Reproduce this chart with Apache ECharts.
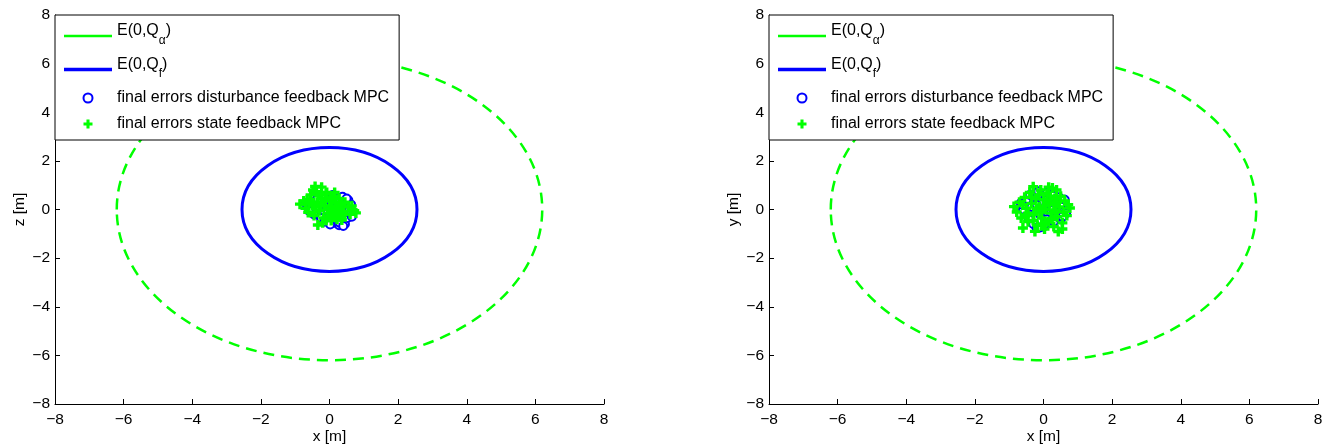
<!DOCTYPE html>
<html><head><meta charset="utf-8">
<script src="https://cdn.jsdelivr.net/npm/echarts@6/dist/echarts.min.js"></script>
<style>html,body{margin:0;padding:0;background:#fff}#c{width:1324px;height:447px}</style>
</head><body><div id="c"></div><script>
// ---- data ----
const tickValues = [-8, -6, -4, -2, 0, 2, 4, 6, 8];
const xAxisNames = ['x [m]', 'x [m]'];
const yAxisNames = ['z [m]', 'y [m]'];
const legendNames = ['E(0,Qα)', 'E(0,Qf)', 'final errors disturbance feedback MPC', 'final errors state feedback MPC'];
// ellipses: [centerX, centerY, radiusX, radiusY] in data units
const ellipseAlpha = [0, 0, 6.2, 6.2];
const ellipseF = [0, 0, 2.55, 2.55];
// left plot (x-z)
const leftDisturbance = [[-0.7,0.27],[-0.55,0.1],[-0.45,-0.2],[-0.4,0.35],[-0.3,0.05],[-0.25,-0.35],[-0.2,0.5],[-0.1,0.2],[-0.05,-0.1],[0.0,0.55],[0.05,0.3],[0.08,-0.3],[0.12,0.1],[0.15,-0.55],[0.18,0.4],[0.2,-0.15],[0.25,0.2],[0.28,-0.65],[0.3,0.45],[0.33,-0.4],[0.36,0.05],[0.4,-0.25],[0.42,0.3],[0.45,-0.6],[0.5,0.15],[0.52,-0.35],[0.55,0.38],[0.6,-0.1],[0.63,0.2],[0.65,-0.3],[-0.15,-0.5],[0.1,0.6],[-0.35,0.45],[0.22,-0.45],[0.48,-0.1],[-0.6,-0.05],[0.38,0.52],[0.02,-0.62],[0.3,-0.55],[0.4,-0.68],[0.58,0.0],[0.5,0.45]];
const leftState = [[-0.86,0.22],[-0.75,0.35],[-0.7,0.05],[-0.62,-0.12],[-0.55,0.42],[-0.5,0.18],[-0.45,-0.25],[-0.42,0.95],[-0.35,0.3],[-0.3,-0.05],[-0.23,0.92],[-0.22,0.45],[-0.18,-0.35],[-0.15,0.15],[-0.1,0.65],[-0.05,-0.15],[0.0,0.35],[-0.08,0.7],[0.05,-0.45],[0.08,0.1],[0.12,0.55],[0.15,-0.2],[0.18,0.3],[0.22,-0.4],[0.25,0.05],[0.28,0.45],[0.32,-0.3],[0.35,0.2],[0.4,-0.1],[0.45,0.3],[0.36,-0.43],[0.55,0.1],[0.6,-0.2],[0.65,0.15],[0.72,-0.05],[0.77,-0.14],[-0.6,0.28],[-0.34,-0.64],[-0.2,-0.55],[-0.38,0.7],[0.05,0.5],[-0.42,-0.1],[-0.55,0.6],[-0.05,0.0],[0.3,-0.05],[-0.3,0.6],[-0.12,0.4],[0.1,-0.1],[-0.25,0.2],[0.2,0.1],[-0.65,0.4],[-0.4,0.1],[0.0,-0.3],[0.15,0.7],[0.45,-0.2],[-0.1,-0.45],[0.25,-0.25],[-0.48,0.8]];
// right plot (x-y)
const rightDisturbance = [[-0.66,0.27],[-0.55,-0.1],[-0.5,0.4],[-0.42,-0.4],[-0.35,0.1],[-0.3,-0.6],[-0.25,0.55],[-0.15,0.75],[-0.1,-0.2],[-0.05,0.3],[0.0,-0.7],[0.05,0.5],[0.1,-0.4],[0.15,0.15],[0.2,-0.1],[0.25,0.6],[0.3,-0.5],[0.35,0.3],[0.4,-0.2],[0.45,0.5],[0.5,-0.4],[0.55,0.4],[0.6,0.05],[0.66,-0.15],[0.62,0.25],[0.45,-0.3],[-0.2,-0.76],[-0.6,0.0],[0.1,0.7],[0.28,0.0],[-0.2,0.2],[0.5,0.2],[0.0,0.0],[-0.4,0.6],[-0.1,-0.74],[0.05,-0.6],[0.55,-0.3],[0.62,0.4],[-0.62,0.2]];
const rightState = [[-0.86,0.12],[-0.78,-0.1],[-0.7,0.3],[-0.65,-0.35],[-0.6,-0.76],[-0.55,0.5],[-0.5,0.05],[-0.45,-0.5],[-0.4,0.7],[-0.35,0.25],[-0.3,0.94],[-0.28,-0.2],[-0.22,0.45],[-0.18,-0.65],[-0.12,0.1],[-0.08,0.8],[-0.05,-0.35],[0.0,0.4],[0.03,-0.8],[0.06,0.0],[0.1,0.65],[0.14,-0.5],[0.18,0.25],[0.22,-0.15],[0.26,0.88],[0.3,-0.7],[0.33,0.45],[0.38,0.8],[0.4,-0.3],[0.43,-0.91],[0.46,0.1],[0.5,0.55],[0.55,-0.55],[0.58,-0.1],[0.62,0.35],[0.68,-0.25],[0.72,0.2],[0.77,0.06],[-0.6,0.2],[-0.25,-0.9],[0.15,0.92],[-0.45,-0.15],[0.35,-0.05],[-0.15,0.6],[0.05,-0.55],[-0.3,-0.45],[-0.2,0.05],[0.1,0.3],[0.25,-0.4],[-0.5,-0.25],[0.2,0.55],[-0.1,-0.1],[0.4,0.3],[-0.35,0.5],[0.0,0.15],[0.3,0.2],[-0.05,-0.6],[0.55,-0.8]];

// ---- style ----
const FONT = '"Liberation Sans", Arial, Helvetica, sans-serif';
const GREEN = '#00ff00', BLUE = '#0000ff';
const PLUS = 'path://M3.3,0H6.7V3.3H10V6.7H6.7V10H3.3V6.7H0V3.3H3.3Z';
const TICK_FS = 15.5, LEGEND_FS = 16;
const grids = [
  {left: 55, top: 15, width: 549, height: 389, outerBoundsMode: 'none', containLabel: false},
  {left: 769, top: 15, width: 549, height: 389, outerBoundsMode: 'none', containLabel: false}
];
const fmt = v => String(v).replace('-', '\u2212');

function xAxis(i) {
  return {
    gridIndex: i, type: 'value', min: tickValues[0], max: tickValues[tickValues.length - 1],
    interval: tickValues[1] - tickValues[0],
    name: xAxisNames[i], nameLocation: 'middle', nameGap: 25, nameMoveOverlap: false,
    nameTextStyle: {color: '#000', fontSize: TICK_FS, fontFamily: FONT},
    axisLine: {show: true, onZero: false, lineStyle: {color: '#000', width: 1}},
    axisTick: {show: true, inside: true, length: 5, lineStyle: {color: '#000'}},
    axisLabel: {color: '#000', fontSize: TICK_FS, fontFamily: FONT, margin: 8, formatter: fmt},
    splitLine: {show: false}
  };
}
function yAxis(i) {
  return {
    gridIndex: i, type: 'value', min: tickValues[0], max: tickValues[tickValues.length - 1],
    interval: tickValues[1] - tickValues[0],
    name: yAxisNames[i], nameLocation: 'middle', nameGap: 27, nameRotate: 90, nameMoveOverlap: false,
    nameTextStyle: {color: '#000', fontSize: TICK_FS, fontFamily: FONT},
    axisLine: {show: true, onZero: false, lineStyle: {color: '#000', width: 1}},
    axisTick: {show: true, inside: true, length: 5, lineStyle: {color: '#000'}},
    axisLabel: {color: '#000', fontSize: TICK_FS, fontFamily: FONT, margin: 5, formatter: fmt},
    splitLine: {show: false}
  };
}
function ellipseSeries(i, name, values, color, width, dash) {
  return {
    type: 'custom', name: name, xAxisIndex: i, yAxisIndex: i, silent: true,
    itemStyle: {color: color},
    data: [values],
    renderItem: function (params, api) {
      const c = api.coord([api.value(0), api.value(1)]);
      const s = api.size([api.value(2), api.value(3)]);
      return {
        type: 'ellipse',
        shape: {cx: c[0], cy: c[1], rx: s[0], ry: s[1]},
        style: {fill: 'none', stroke: color, lineWidth: width, lineDash: dash}
      };
    }
  };
}
function scatterSeries(i, name, data, symbol, color, size, extra) {
  return Object.assign({
    type: 'scatter', name: name, xAxisIndex: i, yAxisIndex: i, data: data,
    symbol: symbol, symbolSize: size, itemStyle: {color: color, opacity: 1}, silent: true
  }, extra || {});
}
const subs = {'E(0,Qα)': ['E(0,Q', 'α', ')'], 'E(0,Qf)': ['E(0,Q', 'f', ')']};
function legend(i) {
  return {
    orient: 'vertical', left: grids[i].left, top: grids[i].top,
    padding: [8, 10, 8, 9], itemGap: 10, itemWidth: 48, itemHeight: 9,
    backgroundColor: '#fff', borderColor: '#000', borderWidth: 1,
    selectedMode: false,
    data: [
      {name: legendNames[0], icon: 'path://M0,0H48V2.4H0Z'},
      {name: legendNames[1], icon: 'path://M0,0H48V3.6H0Z'},
      {name: legendNames[2], itemStyle: {borderWidth: 2.5}},
      {name: legendNames[3]}
    ],
    formatter: function (n) {
      if (subs[n]) return '{n|' + subs[n][0] + '}{s|' + subs[n][1] + '}{n|' + subs[n][2] + '}';
      return '{p|' + n + '}';
    },
    textStyle: {
      color: '#000', fontSize: LEGEND_FS, fontFamily: FONT,
      rich: {
        n: {color: '#000', fontSize: LEGEND_FS, fontFamily: FONT, padding: [0, 0, 10, 0]},
        s: {color: '#000', fontSize: 12, fontFamily: FONT, padding: [9, 0, 0, 0]},
        p: {color: '#000', fontSize: LEGEND_FS, fontFamily: FONT}
      }
    }
  };
}
const disturbance = [leftDisturbance, rightDisturbance];
const state = [leftState, rightState];
const series = [];
for (let i = 0; i < 2; i++) {
  series.push(ellipseSeries(i, legendNames[0], ellipseAlpha, GREEN, 2.5, [11, 7]));
  series.push(ellipseSeries(i, legendNames[1], ellipseF, BLUE, 3, null));
  series.push(scatterSeries(i, legendNames[2], disturbance[i], 'emptyCircle', BLUE, 8,
    {itemStyle: {color: BLUE, borderColor: BLUE, borderWidth: 2.5, opacity: 1}}));
  series.push(scatterSeries(i, legendNames[3], state[i], PLUS, GREEN, 10));
}
const chart = echarts.init(document.getElementById('c'), null, {renderer: 'canvas'});
chart.setOption({
  animation: false,
  backgroundColor: '#fff',
  grid: grids,
  xAxis: [xAxis(0), xAxis(1)],
  yAxis: [yAxis(0), yAxis(1)],
  legend: [legend(0), legend(1)],
  series: series
});
</script></body></html>
